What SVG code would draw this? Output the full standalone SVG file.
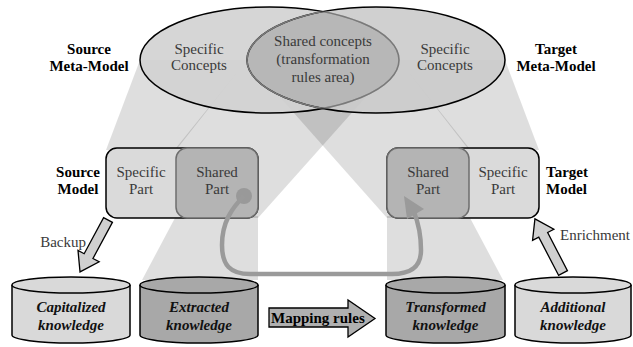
<svg xmlns="http://www.w3.org/2000/svg" width="633" height="347" viewBox="0 0 633 347">
<style>
.beam{fill:#000;fill-opacity:0.13;stroke:none}
text{font-family:"Liberation Serif","DejaVu Serif",serif}
.t{font-size:15px;fill:#3a3a3a;text-anchor:middle}
.b{font-size:15px;font-weight:bold;fill:#000;text-anchor:middle}
.k{font-size:15px;font-weight:bold;font-style:italic;fill:#111;text-anchor:middle}
.spec{fill:#dadada;stroke:#000;stroke-width:1.5}
.shared{fill:#b4b4b4;stroke:#6e6e6e;stroke-width:1.5}
.cylL{fill:#d9d9d9;stroke:#000;stroke-width:1.5}
.cylD{fill:#a8a8a8;stroke:#000;stroke-width:1.5}
.blk{fill:#d0d0d0;stroke:#000;stroke-width:1.3}
</style>
<defs>
<clipPath id="clipL"><ellipse cx="269.5" cy="60" rx="129.5" ry="53"/></clipPath>
<clipPath id="clipR"><ellipse cx="376" cy="60" rx="129" ry="53"/></clipPath>
</defs>
<rect width="633" height="347" fill="#fff"/>
<g id="beams">
<polygon class="beam" points="140,60 247,60 176,150 106,150"/>
<polygon class="beam" points="247,60 399,60 258,218 176,218 176,148"/>
<polygon class="beam" points="247,60 399,60 469,148 469,218 387,218"/>
<polygon class="beam" points="399,60 505,60 539,150 469,150"/>
<polygon class="beam" points="176,216 258,216 258,280 142,280"/>
<polygon class="beam" points="387,216 469,216 503,280 387,280"/>
</g>
<g id="metamodels">
<ellipse cx="269.5" cy="60" rx="129.5" ry="53" fill="#d2d2d2" fill-opacity="0.9" stroke="#000" stroke-width="1.5"/>
<ellipse cx="376" cy="60" rx="129" ry="53" fill="#cbcbcb" fill-opacity="0.9" stroke="#000" stroke-width="1.5"/>
<ellipse cx="376" cy="60" rx="129" ry="53" fill="#000" fill-opacity="0.1" stroke="#7a7a7a" stroke-width="1.5" clip-path="url(#clipL)"/>
<ellipse cx="269.5" cy="60" rx="129.5" ry="53" fill="none" stroke="#7a7a7a" stroke-width="1.5" clip-path="url(#clipR)"/>
</g>
<g id="source-model">
<rect class="spec" x="106" y="148" width="152" height="70" rx="11"/>
<rect class="shared" x="176" y="148" width="82" height="70" rx="11"/>
</g>
<g id="target-model">
<rect class="spec" x="387" y="148" width="152" height="70" rx="11"/>
<rect class="shared" x="387" y="148" width="82" height="70" rx="11"/>
</g>
<g id="capitalized">
<path class="cylL" d="M12,285 L12,335 A59,8 0 0 0 130,335 L130,285"/>
<ellipse class="cylL" cx="71" cy="285" rx="59" ry="8"/>
</g>
<g id="extracted">
<path class="cylD" d="M140,285 L140,335 A59,8 0 0 0 258,335 L258,285"/>
<ellipse class="cylD" cx="199" cy="285" rx="59" ry="8"/>
</g>
<g id="transformed">
<path class="cylD" d="M386,285 L386,335 A59.5,8 0 0 0 505,335 L505,285"/>
<ellipse class="cylD" cx="445.5" cy="285" rx="59.5" ry="8"/>
</g>
<g id="additional">
<path class="cylL" d="M515,285 L515,335 A58,8 0 0 0 631,335 L631,285"/>
<ellipse class="cylL" cx="573" cy="285" rx="58" ry="8"/>
</g>
<g id="connectors">
<polygon class="blk" transform="translate(108,220) rotate(118.3)" points="0,-5 41,-5 41,-12 59,0 41,12 41,5 0,5"/>
<polygon class="blk" transform="translate(563,273) rotate(-117.4)" points="0,-5 43,-5 43,-12 61,0 43,12 43,5 0,5"/>
<polygon fill="#b0b0b0" stroke="#000" stroke-width="1.3" points="269,308 348,308 348,300 375,318.5 348,337 348,327 269,327"/>
<circle cx="244" cy="196" r="8" fill="#999"/>
<path d="M244,196 C232,208 222,222 222,245 C222,265 230,274 250,274 L392,274 C412,274 421,266 421,250 C421,235 418,222 414,212" fill="none" stroke="#9a9a9a" stroke-width="4.5"/>
<polygon points="404,196 407,219 424,209" fill="#9a9a9a"/>
</g>
<g id="labels">
<text class="b" x="89" y="54">Source</text>
<text class="b" x="89" y="71">Meta-Model</text>
<text class="t" x="199" y="54">Specific</text>
<text class="t" x="199" y="70">Concepts</text>
<text class="t" x="323" y="46">Shared concepts</text>
<text class="t" x="323" y="64">(transformation</text>
<text class="t" x="323" y="82">rules area)</text>
<text class="t" x="445" y="54">Specific</text>
<text class="t" x="445" y="70">Concepts</text>
<text class="b" x="556" y="54">Target</text>
<text class="b" x="556" y="71">Meta-Model</text>
<text class="b" x="78" y="177">Source</text>
<text class="b" x="78" y="194">Model</text>
<text class="t" x="141" y="177">Specific</text>
<text class="t" x="141" y="194">Part</text>
<text class="t" x="217" y="177">Shared</text>
<text class="t" x="217" y="194">Part</text>
<text class="t" x="428" y="177">Shared</text>
<text class="t" x="428" y="194">Part</text>
<text class="t" x="503" y="177">Specific</text>
<text class="t" x="503" y="194">Part</text>
<text class="b" x="546" y="177" style="text-anchor:start">Target</text>
<text class="b" x="546" y="194" style="text-anchor:start">Model</text>
<text class="t" x="86" y="247" style="text-anchor:end">Backup</text>
<text class="t" x="560" y="240" style="text-anchor:start">Enrichment</text>
<text class="k" x="71" y="312">Capitalized</text>
<text class="k" x="71" y="330">knowledge</text>
<text class="k" x="199" y="312">Extracted</text>
<text class="k" x="199" y="330">knowledge</text>
<text class="k" x="445.5" y="312">Transformed</text>
<text class="k" x="445.5" y="330">knowledge</text>
<text class="k" x="573" y="312">Additional</text>
<text class="k" x="573" y="330">knowledge</text>
<text class="b" x="271" y="323" style="text-anchor:start">Mapping rules</text>
</g>
</svg>
